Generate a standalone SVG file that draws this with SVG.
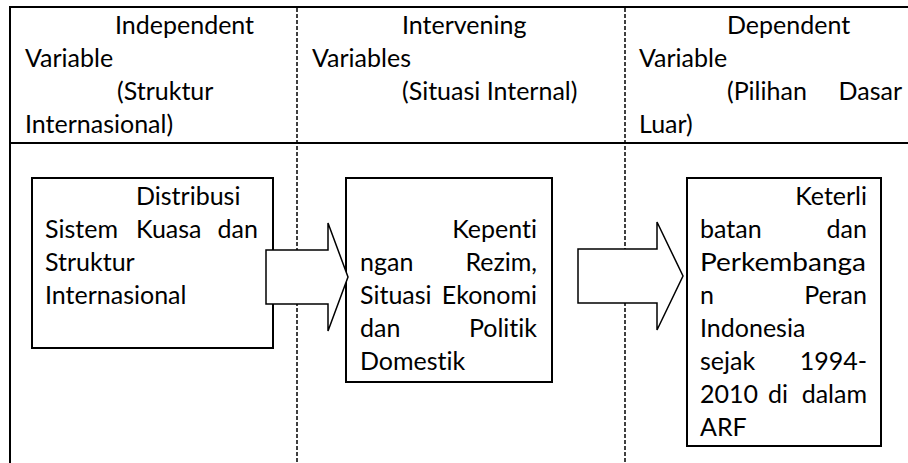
<svg xmlns="http://www.w3.org/2000/svg" width="908" height="463" viewBox="0 0 908 463">
<style>
text{font-family:Lato,"Liberation Sans",sans-serif;font-size:25px;fill:#000;font-variant-ligatures:none;font-feature-settings:"liga" 0,"clig" 0}
.e{text-anchor:end}
.tl{stroke:#000;stroke-width:2;fill:none}
.dash{stroke:#000;stroke-width:1.5;stroke-dasharray:4 2;fill:none}
.box{fill:#fff;stroke:#000;stroke-width:2}
.arr{fill:#fff;stroke:#000;stroke-width:1.5;stroke-linejoin:miter}
</style>
<rect width="908" height="463" fill="#fff"/>
<g id="table">
<line class="tl" x1="10" y1="7" x2="908" y2="7"/>
<line class="tl" x1="10" y1="143" x2="908" y2="143"/>
<line class="tl" x1="10" y1="6" x2="10" y2="463"/>
<line class="dash" x1="297" y1="8" x2="297" y2="463"/>
<line class="dash" x1="625" y1="8" x2="625" y2="463"/>
</g>
<g id="head-independent">
<text x="115" y="34">Independent</text>
<text x="25" y="67">Variable</text>
<text x="117" y="100">(Struktur</text>
<text x="25" y="133">Internasional)</text>
</g>
<g id="head-intervening">
<text x="402" y="34">Intervening</text>
<text x="312" y="67">Variables</text>
<text x="402" y="100">(Situasi Internal)</text>
</g>
<g id="head-dependent">
<text x="727" y="34">Dependent</text>
<text x="639" y="67">Variable</text>
<text x="727" y="100">(Pilihan</text>
<text class="e" x="902" y="100">Dasar</text>
<text x="639" y="133">Luar)</text>
</g>
<g id="node-distribusi">
<rect class="box" x="32" y="178" width="241" height="170"/>
<text x="136" y="205">Distribusi</text>
<text x="45" y="238">Sistem</text>
<text x="136" y="238">Kuasa</text>
<text class="e" x="258" y="238">dan</text>
<text x="45" y="271">Struktur</text>
<text x="45" y="304">Internasional</text>
</g>
<g id="node-kepentingan">
<rect class="box" x="346" y="178" width="206" height="204"/>
<text class="e" x="537" y="238">Kepenti</text>
<text x="360" y="271">ngan</text>
<text class="e" x="537" y="271">Rezim,</text>
<text x="360" y="304">Situasi</text>
<text class="e" x="537" y="304">Ekonomi</text>
<text x="360" y="337">dan</text>
<text class="e" x="537" y="337">Politik</text>
<text x="360" y="370">Domestik</text>
</g>
<g id="node-keterlibatan">
<rect class="box" x="687" y="178" width="194" height="268"/>
<text class="e" x="867" y="205">Keterli</text>
<text x="700" y="238">batan</text>
<text class="e" x="867" y="238">dan</text>
<text x="700" y="271" textLength="166" lengthAdjust="spacingAndGlyphs">Perkembanga</text>
<text x="700" y="304">n</text>
<text class="e" x="867" y="304">Peran</text>
<text x="700" y="337">Indonesia</text>
<text x="700" y="370">sejak</text>
<text class="e" x="867" y="370">1994-</text>
<text x="700" y="403">2010</text>
<text x="768" y="403">di</text>
<text class="e" x="867" y="403">dalam</text>
<text x="700" y="436">ARF</text>
</g>
<g id="connectors">
<path class="arr" d="M266,250 H328 V223 L348,277 L328,331 V304 H266 Z"/>
<path class="arr" d="M578,249 H657 V222 L683,276 L657,330 V303 H578 Z"/>
</g>
</svg>
